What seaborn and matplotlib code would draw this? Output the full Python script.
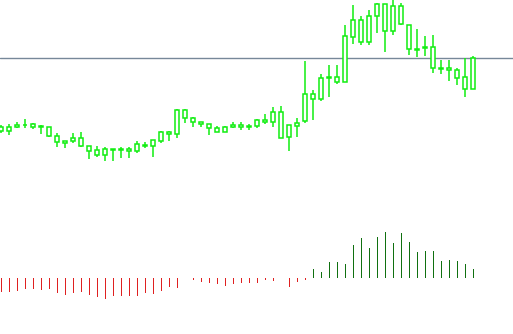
import matplotlib
matplotlib.use("Agg")
import matplotlib.pyplot as plt
import seaborn as sns
import pandas as pd
import numpy as np

# ---- data (arbitrary price units) ----
opens = [38.7, 39.3, 42.7, 45.3, 46.0, 43.5, 42.7, 34.0, 27.3, 31.7,
         31.7, 23.7, 14.7, 14.7, 20.3, 21.0, 18.7, 18.7, 24.0, 23.7,
         28.7, 35.7, 35.7, 59.7, 51.7, 47.7, 45.7, 37.7, 37.7, 42.7,
         44.7, 43.4, 43.7, 47.7, 47.7, 57.7, 32.7, 43.7, 48.7, 70.7,
         70.7, 91.7, 92.7, 87.7, 132.7, 149.7, 127.7, 153.7, 165.7, 138.7,
         163.7, 144.7, 120.7, 122.4, 122.7, 102.0, 101.7, 99.7, 92.7, 80.7]
highs = [45.3, 46.0, 48.0, 50.7, 46.7, 45.3, 42.7, 37.3, 29.3, 36.7,
         37.7, 23.7, 23.7, 23.3, 21.3, 23.3, 23.3, 29.3, 28.0, 29.7,
         38.7, 38.7, 60.7, 60.7, 52.7, 47.7, 45.7, 43.7, 43.7, 47.7,
         47.7, 45.7, 50.7, 55.7, 62.7, 63.7, 44.7, 51.7, 108.7, 79.7,
         95.7, 104.7, 104.7, 144.7, 164.7, 153.7, 159.7, 166.7, 165.7, 170.0,
         166.7, 144.7, 140.7, 133.7, 134.7, 109.7, 109.7, 101.7, 111.7, 113.7]
lows = [36.7, 34.7, 41.7, 42.0, 41.3, 36.0, 32.7, 23.3, 22.0, 26.7,
        22.7, 11.3, 13.3, 8.7, 8.7, 12.0, 12.0, 16.7, 22.0, 13.3,
        27.3, 29.3, 32.3, 47.3, 42.7, 42.7, 34.7, 37.7, 37.7, 41.7,
        39.7, 39.7, 41.7, 45.7, 42.7, 31.7, 18.7, 32.7, 46.7, 49.7,
        68.7, 72.7, 85.7, 87.7, 125.7, 124.7, 124.7, 136.7, 117.7, 134.7,
        144.7, 114.7, 112.7, 113.7, 96.7, 95.7, 88.7, 84.7, 72.7, 80.7]
closes = [43.3, 42.7, 45.0, 44.7, 42.7, 43.0, 34.0, 27.7, 29.3, 29.3,
          24.3, 19.3, 20.0, 20.7, 21.0, 20.3, 20.7, 26.0, 24.7, 29.7,
          38.0, 37.7, 60.0, 51.7, 47.7, 45.7, 41.7, 41.7, 42.7, 44.7,
          42.7, 44.0, 49.7, 49.7, 57.7, 32.3, 44.7, 46.7, 75.7, 75.7,
          91.7, 92.7, 87.7, 133.7, 149.7, 127.7, 153.7, 165.7, 138.7, 163.7,
          145.7, 120.7, 119.7, 123.0, 101.7, 101.4, 99.7, 91.7, 80.7, 111.7]
level = 111.7
osc = [-13.7, -13.7, -12.7, -11.0, -11.0, -11.7, -10.7, -14.7, -16.7, -14.7,
       -13.7, -16.7, -18.7, -20.7, -17.7, -17.7, -17.7, -17.7, -14.7, -15.7,
       -12.7, -8.7, -9.7, 0.5, -1.7, -3.7, -4.7, -5.7, -7.7, -5.7,
       -4.7, -4.7, -4.7, -2.0, -2.7, 0.5, -8.7, -3.7, -2.0, 9.0,
       6.0, 16.0, 16.0, 14.0, 33.0, 40.0, 30.0, 41.0, 46.0, 35.0,
       45.0, 36.0, 26.0, 27.0, 27.0, 17.0, 18.0, 17.0, 14.0, 9.0]

sns.set_theme(style="white")

W, H = 513, 334
fig = plt.figure(figsize=(W / 100, H / 100), dpi=100)
fig.patch.set_facecolor("white")

n = len(opens)
idx = np.arange(n)
xlim = (-1.33 / 8, (W - 1.33) / 8)

# price panel
ax = fig.add_axes([0, (H - 170) / H, 1, 170 / H])
ax.set_xlim(*xlim)
ax.set_ylim(0, 170)
ax.axhline(level, color="#778899", lw=1.0, zorder=1)
ax.vlines(idx, lows, highs, color="#11ee11", lw=1.1, zorder=2)
o = np.array(opens); c = np.array(closes)
bottom = np.minimum(o, c)
height = np.maximum(np.abs(c - o), 0.6)
ax.bar(idx, height, bottom=bottom, width=0.5, color="white",
       edgecolor="#11ee11", linewidth=1.1, zorder=3)
ax.axis("off")

# oscillator panel
ax2 = fig.add_axes([0, 24 / H, 1, 90 / H])
df = pd.DataFrame({"i": idx, "v": osc,
                   "s": ["pos" if v > 0 else "neg" for v in osc]})
sns.barplot(data=df, x="i", y="v", hue="s", palette={"pos": "#008000", "neg": "#ff0000"},
            dodge=False, width=0.15, legend=False, ax=ax2, linewidth=0, native_scale=True)
ax2.set_xlim(*xlim)
ax2.set_ylim(-32, 58)
ax2.axis("off")

fig.savefig("out.png", dpi=100, facecolor="white")
